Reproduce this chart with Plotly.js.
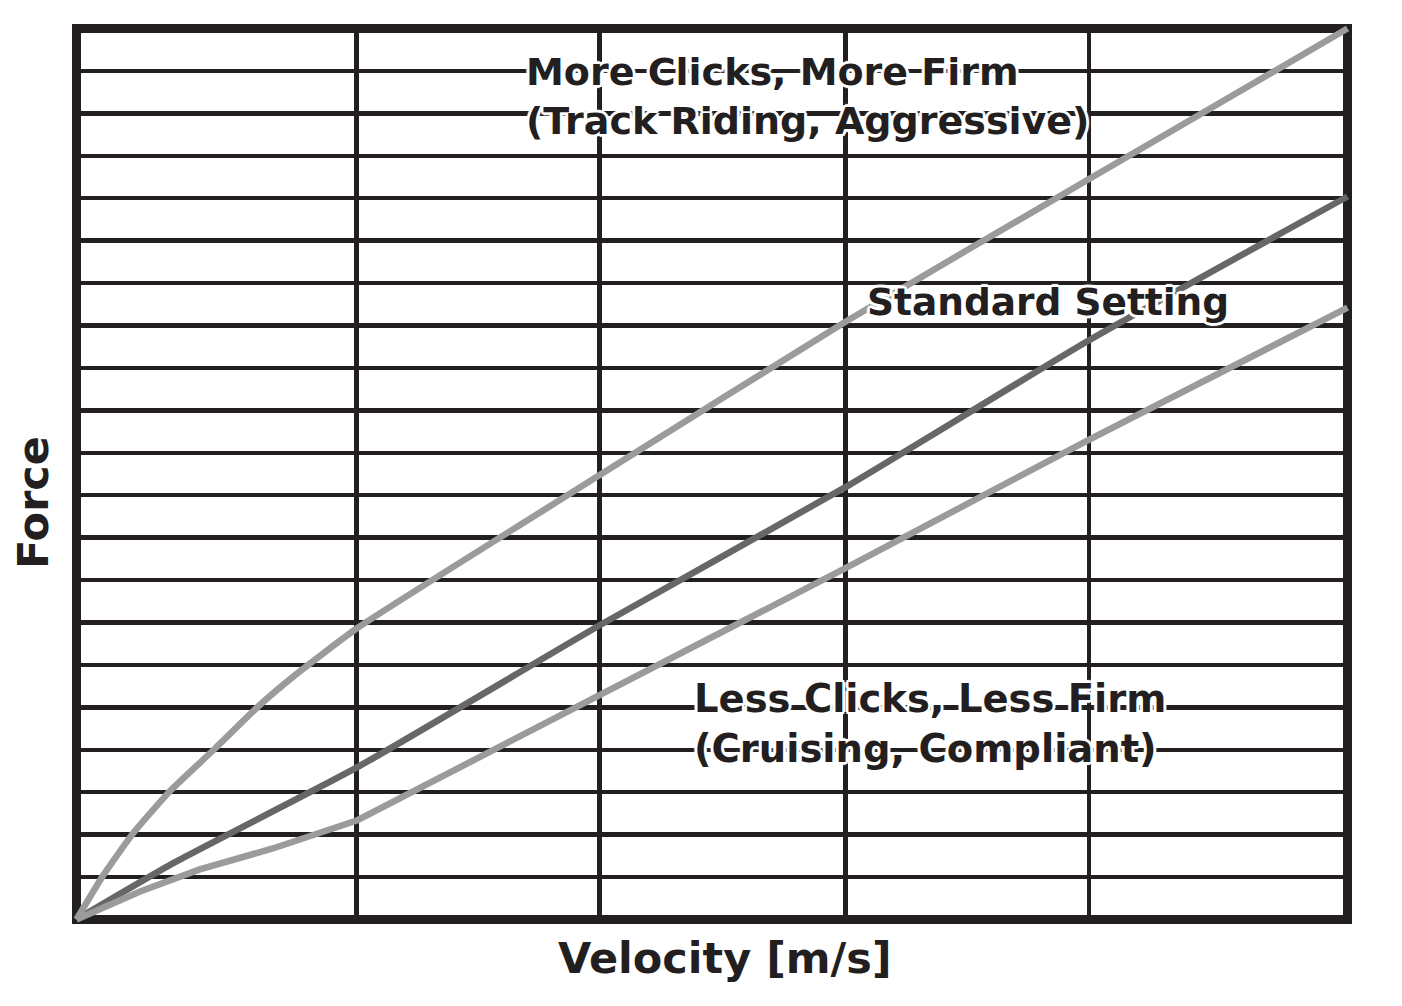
<!DOCTYPE html>
<html>
<head>
<meta charset="utf-8">
<script src="https://cdn.plot.ly/plotly-3.0.1.min.js"></script>
<style>
  html, body { margin: 0; padding: 0; background: #ffffff; }
  #chart { width: 1402px; height: 1006px; }
</style>
</head>
<body>
<div id="chart"></div>
<script>
// Damper force vs. velocity for three click settings (unitless shape curves)
const firmVelocity   = [0, 0.021, 0.045, 0.074, 0.109, 0.144, 0.172, 0.221, 0.412, 0.605, 0.796, 1.0];
const firmForce      = [0, 1.04, 2.05, 3.04, 4.03, 5.05, 5.76, 6.87, 10.48, 14.09, 17.44, 21.0];

const standardVelocity = [0, 0.0775, 0.221, 0.412, 0.605, 0.796, 1.0];
const standardForce    = [0, 1.35, 3.59, 6.94, 10.19, 13.64, 17.04];

const softVelocity   = [0, 0.050, 0.097, 0.155, 0.221, 0.412, 0.605, 0.796, 1.0];
const softForce      = [0, 0.66, 1.18, 1.68, 2.34, 5.29, 8.28, 11.30, 14.42];

// Grid positions
const velocityGrid = [0.2204, 0.4113, 0.6049, 0.7965];
const forceGrid = [1, 2, 3, 4, 5, 6, 7, 8, 9, 10, 11, 12, 13, 14, 15, 16, 17, 18, 19, 20];

// Labels
const firmLabel = ['More Clicks, More Firm', '(Track Riding, Aggressive)'];
const standardLabel = 'Standard Setting';
const softLabel = ['Less Clicks, Less Firm', '(Cruising, Compliant)'];
const xTitle = 'Velocity [m/s]';
const yTitle = 'Force';

const INK = '#231f20';
const LIGHT = '#9b9b9b';
const DARK = '#676767';
const FONT = '"DejaVu Sans", "Open Sans", sans-serif';
const HALO = '2px 0 0 #fff, -2px 0 0 #fff, 0 2px 0 #fff, 0 -2px 0 #fff, 2px 2px 0 #fff, -2px -2px 0 #fff, 2px -2px 0 #fff, -2px 2px 0 #fff, 3px 0 1px #fff, -3px 0 1px #fff, 0 3px 1px #fff, 0 -3px 1px #fff';

function curve(x, y, color, shape) {
  return {
    x: x, y: y, type: 'scatter', mode: 'lines',
    line: { color: color, width: 6.5, shape: shape, smoothing: 0.5 },
    hoverinfo: 'skip', showlegend: false
  };
}

const traces = [
  curve(standardVelocity, standardForce, DARK, 'spline'),
  curve(softVelocity, softForce, LIGHT, 'linear'),
  curve(firmVelocity, firmForce, LIGHT, 'spline')
];

function label(text, x, y, size) {
  return {
    text: text, x: x, y: y, xref: 'x', yref: 'y',
    xanchor: 'left', yanchor: 'middle', align: 'left', showarrow: false,
    font: { family: FONT, size: size, color: INK, weight: 700, shadow: HALO }
  };
}

const layout = {
  width: 1402, height: 1006,
  margin: { l: 72, r: 50, t: 24, b: 82, pad: 0 },
  paper_bgcolor: '#ffffff', plot_bgcolor: '#ffffff',
  showlegend: false,
  xaxis: {
    range: [-0.00354, 1.00354],
    tickvals: velocityGrid, showticklabels: false, ticks: '',
    showgrid: true, gridcolor: INK, gridwidth: 4.5,
    zeroline: false, showline: false, fixedrange: true
  },
  yaxis: {
    range: [-0.10606, 21.10606],
    tickvals: forceGrid, showticklabels: false, ticks: '',
    showgrid: true, gridcolor: INK, gridwidth: 4.5,
    zeroline: false, showline: false, fixedrange: true
  },
  shapes: [{
    type: 'rect', xref: 'x', yref: 'y', x0: 0, x1: 1, y0: 0, y1: 21,
    line: { color: INK, width: 9 }, fillcolor: 'rgba(0,0,0,0)', layer: 'between'
  }],
  annotations: [
    label(firmLabel.join('<br>'), 0.352, 19.40, 38),
    label(standardLabel, 0.6205, 14.55, 37.5),
    label(softLabel.join('<br>'), 0.484, 4.62, 38.5),
    {
      text: xTitle, xref: 'paper', yref: 'paper', x: 0.5098, y: -0.0379,
      xanchor: 'center', yanchor: 'middle', showarrow: false,
      font: { family: FONT, size: 43, color: INK, weight: 700 }
    },
    {
      text: yTitle, xref: 'paper', yref: 'paper', x: -0.0305, y: 0.4688,
      xanchor: 'center', yanchor: 'middle', showarrow: false, textangle: -90,
      font: { family: FONT, size: 43, color: INK, weight: 700 }
    }
  ]
};

Plotly.newPlot('chart', traces, layout, { staticPlot: true, displayModeBar: false });
</script>
</body>
</html>
